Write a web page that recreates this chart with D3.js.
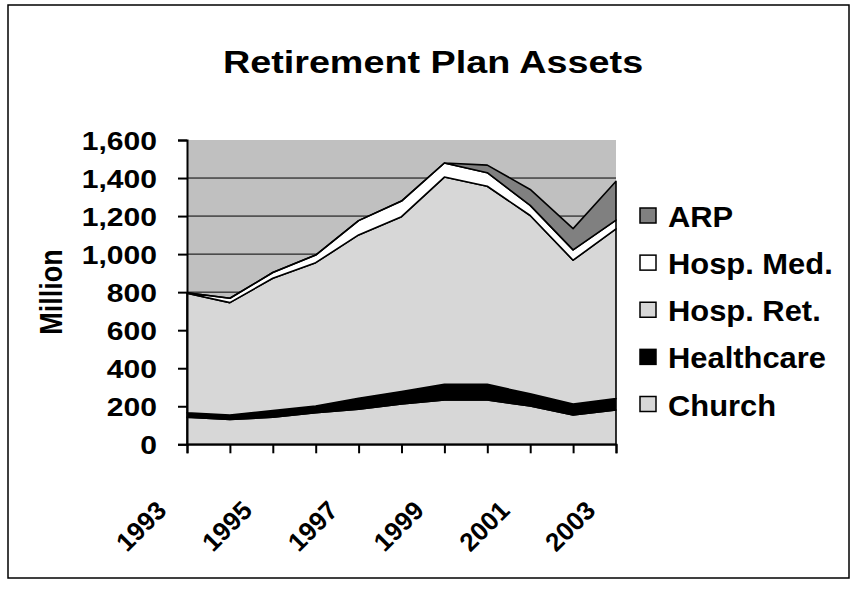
<!DOCTYPE html>
<html><head><meta charset="utf-8">
<script src="https://cdn.jsdelivr.net/npm/d3@7"></script>
<style>body{margin:0;background:#fff}text{font-family:"Liberation Sans",Arial,sans-serif;font-weight:bold;fill:#000}</style>
</head><body><svg id="c" width="858" height="593"></svg>
<script>
const years = [1993,1994,1995,1996,1997,1998,1999,2000,2001,2002,2003];
const yearLabels = ["1993","","1995","","1997","","1999","","2001","","2003"];
const seriesNames = ["Church","Healthcare","Hosp. Ret.","Hosp. Med.","ARP"];
const church     = [142,131,142,166,184,212,233,233,201,154,180];
const healthcare = [24,23,35,35,58,65,82,82,64,58,60];
const hospRet    = [628,591,696,754,859,920,1090,1042,938,756,893];
const hospMed    = [3,23,30,40,75,82,74,71,53,54,46];
const arp        = [0,0,0,0,0,0,0,40,84,112,204];
const yTicks = [0,200,400,600,800,1000,1200,1400,1600];
const colors = ["#d7d7d7","#000000","#d7d7d7","#ffffff","#808080"];

const rows = years.map((y,i)=>({year:y,"Church":church[i],"Healthcare":healthcare[i],"Hosp. Ret.":hospRet[i],"Hosp. Med.":hospMed[i],"ARP":arp[i]}));
const svg = d3.select("#c");
const SX = 1.18;

svg.append("rect").attr("x",8).attr("y",5).attr("width",841).attr("height",573)
  .attr("fill","#fff").attr("stroke","#000").attr("stroke-width",1.5);

const x = d3.scalePoint().domain(years).range([187,616]);
const y = d3.scaleLinear().domain([0,1600]).range([444.3,140]);

svg.append("rect").attr("x",187).attr("y",140).attr("width",429).attr("height",304.3).attr("fill","#c0c0c0");
svg.append("g").selectAll("line").data(yTicks.filter(d=>d>0&&d<1600)).join("line")
  .attr("x1",187).attr("x2",616).attr("y1",d=>y(d)).attr("y2",d=>y(d)).attr("stroke","#000").attr("stroke-width",1);

const stack = d3.stack().keys(seriesNames)(rows);
const area = d3.area().x(d=>x(d.data.year)).y0(d=>y(d[0])).y1(d=>y(d[1]));
svg.append("g").selectAll("path").data(stack).join("path")
  .attr("d",area).attr("fill",(d,i)=>colors[i]).attr("stroke","#000").attr("stroke-width",1.6).attr("stroke-linejoin","round");

// axes
const yAxis = svg.append("g").attr("transform","translate(187,0)").call(d3.axisLeft(y).tickValues(yTicks).tickSize(9).tickFormat(""));
const xAxis = svg.append("g").attr("transform","translate(0,444.3)").call(d3.axisBottom(x).tickSize(9).tickFormat(""));
[yAxis,xAxis].forEach(a=>{a.select(".domain").attr("stroke","#000").attr("stroke-width",2);a.selectAll(".tick line").attr("stroke","#000").attr("stroke-width",2);});

// y tick labels
const fmt = d3.format(",");
svg.append("g").selectAll("text").data(yTicks).join("text")
  .attr("transform",d=>`translate(157,${y(d)+9.5}) scale(${SX},1)`)
  .attr("text-anchor","end").attr("font-size",25.5).text(d=>fmt(d));

// x tick labels
svg.append("g").selectAll("text").data(years.map((d,i)=>({d,l:yearLabels[i]})).filter(o=>o.l)).join("text")
  .attr("transform",o=>`translate(${x(o.d)-19},512) rotate(-45)`)
  .attr("text-anchor","end").attr("font-size",26).text(o=>o.l);

// axis title
svg.append("text").attr("transform",`translate(62,292) scale(${SX},1) rotate(-90)`)
  .attr("text-anchor","middle").attr("font-size",27).text("Million");

// title
svg.append("text").attr("transform",`translate(433,73) scale(${SX},1)`)
  .attr("text-anchor","middle").attr("font-size",32).text("Retirement Plan Assets");

// legend
const legendOrder = ["ARP","Hosp. Med.","Hosp. Ret.","Healthcare","Church"];
const ly = d3.scalePoint().domain(legendOrder).range([215.5,404]);
const lg = svg.append("g").selectAll("g").data(legendOrder).join("g").attr("transform",d=>`translate(640,${ly(d)})`);
lg.append("rect").attr("x",0).attr("y",-7.5).attr("width",16).attr("height",15)
  .attr("fill",d=>colors[seriesNames.indexOf(d)]).attr("stroke","#000").attr("stroke-width",1.5);
lg.append("text").attr("transform",`translate(28,11.5) scale(1.03,1)`).attr("font-size",30).text(d=>d);
</script></body></html>
